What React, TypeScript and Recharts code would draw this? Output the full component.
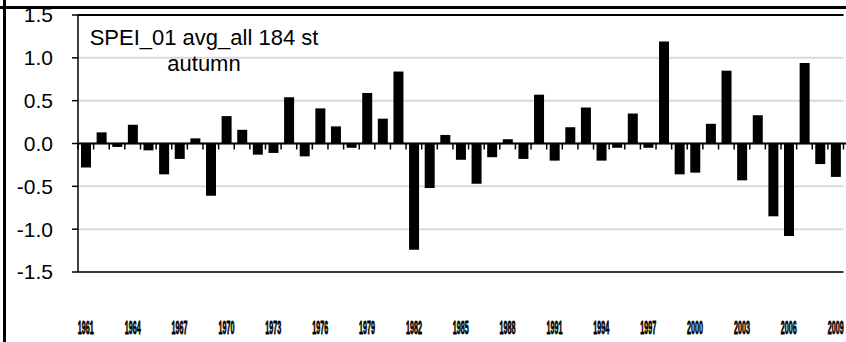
import { BarChart, Bar, XAxis, YAxis, CartesianGrid, ReferenceLine } from "recharts";

const years = [
  1961, 1962, 1963, 1964, 1965, 1966, 1967, 1968, 1969, 1970,
  1971, 1972, 1973, 1974, 1975, 1976, 1977, 1978, 1979, 1980,
  1981, 1982, 1983, 1984, 1985, 1986, 1987, 1988, 1989, 1990,
  1991, 1992, 1993, 1994, 1995, 1996, 1997, 1998, 1999, 2000,
  2001, 2002, 2003, 2004, 2005, 2006, 2007, 2008, 2009,
];

const spei = [
  -0.28, 0.13, -0.04, 0.22, -0.08, -0.36, -0.18, 0.06, -0.61, 0.32,
  0.16, -0.13, -0.11, 0.54, -0.15, 0.41, 0.2, -0.05, 0.59, 0.29,
  0.84, -1.24, -0.52, 0.1, -0.19, -0.47, -0.16, 0.05, -0.18, 0.57,
  -0.2, 0.19, 0.42, -0.2, -0.05, 0.35, -0.05, 1.19, -0.36, -0.34,
  0.23, 0.85, -0.43, 0.33, -0.85, -1.08, 0.94, -0.24, -0.39,
];

const yTicks = [-1.5, -1.0, -0.5, 0, 0.5, 1.0, 1.5];
const titleLines = ["SPEI_01 avg_all 184 st", "autumn"];

const data = years.map((y, i) => ({ year: y, value: spei[i] }));

// zero line with small tick marks on category boundaries
const ZeroAxis = (props: any) => {
  const { x1, y1, x2 } = props;
  const band = (x2 - x1) / years.length;
  const marks = [];
  for (let i = 0; i <= years.length; i++) {
    const x = x1 + i * band;
    marks.push(<line key={i} x1={x} x2={x} y1={y1} y2={y1 + 6} stroke="#000" strokeWidth={1.5} />);
  }
  return (
    <g>
      <line x1={x1} x2={x2 + 3} y1={y1} y2={y1} stroke="#000" strokeWidth={2} />
      {marks}
    </g>
  );
};

// year labels come out as squashed dark blobs in the original
const YearTick = (props: any) => {
  const { x, y, payload, index } = props;
  if (index % 3 !== 0) return null;
  return (
    <text
      x={x}
      y={y + 54}
      textAnchor="middle"
      fontSize={18}
      fontWeight="bold"
      fill="#000"
      stroke="#000"
      strokeWidth={0.8}
      textLength={16}
      lengthAdjust="spacingAndGlyphs"
    >
      {payload.value}
    </text>
  );
};

export default function App() {
  return (
    <div
      style={{
        position: "fixed",
        left: 0,
        top: 0,
        width: 846,
        height: 342,
        overflow: "hidden",
        background: "#fff",
        fontFamily: "'Liberation Sans', Arial, sans-serif",
      }}
    >
      <BarChart
        width={846}
        height={342}
        data={data}
        margin={{ top: 15, right: 2.5, bottom: 0, left: 0 }}
        barSize={10}
      >
        <CartesianGrid horizontal vertical={false} stroke="#d9d9d9" strokeWidth={2} />
        <XAxis
          dataKey="year"
          interval={0}
          axisLine={false}
          tickLine={false}
          height={70}
          tick={<YearTick />}
        />
        <YAxis
          domain={[-1.5, 1.5]}
          ticks={yTicks}
          width={78}
          tickFormatter={(v: number) => v.toFixed(1)}
          axisLine={{ stroke: "#000", strokeWidth: 1.5 }}
          tickLine={{ stroke: "#000", strokeWidth: 1.5 }}
          tickSize={6}
          tickMargin={19}
          tick={{ fill: "#000", fontSize: 21 }}
        />
        <ReferenceLine y={1.5} stroke="#000" strokeWidth={2} />
        <ReferenceLine y={-1.5} stroke="#000" strokeWidth={1.5} />
        <Bar dataKey="value" fill="#000" isAnimationActive={false} />
        <ReferenceLine y={0} shape={<ZeroAxis />} />
      </BarChart>
      <div
        style={{
          position: "absolute",
          left: 54,
          top: 25,
          width: 300,
          textAlign: "center",
          fontSize: 22,
          lineHeight: "26px",
          color: "#000",
        }}
      >
        {titleLines.map((t) => (
          <div key={t}>{t}</div>
        ))}
      </div>
      <svg width={846} height={342} style={{ position: "absolute", left: 0, top: 0, zIndex: 10, pointerEvents: "none" }}>
        <rect x={0} y={6} width={846} height={3} fill="#000" />
        <rect x={3} y={0} width={3} height={342} fill="#000" />
      </svg>
    </div>
  );
}
